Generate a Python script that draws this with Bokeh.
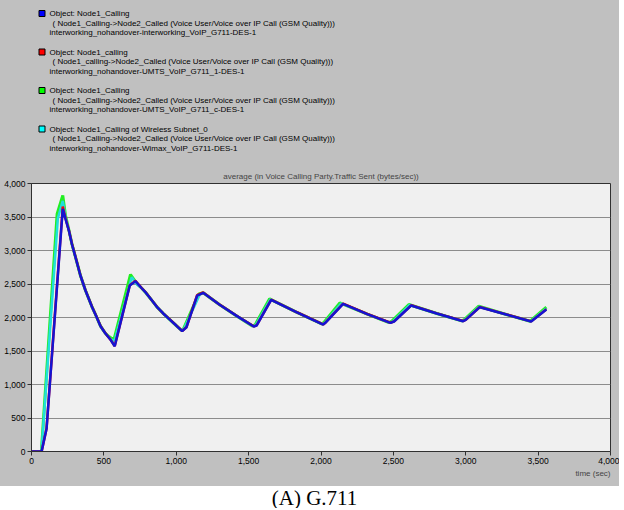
from bokeh.plotting import figure
from bokeh.layouts import column
from bokeh.models import Range1d, NumeralTickFormatter, FixedTicker, Title
from bokeh.core.properties import value
from bokeh.embed import file_html
from bokeh.resources import INLINE

# ---------------- data ----------------
blue_t = [0, 70, 104, 216, 235, 258, 280, 304, 338, 373, 419, 445, 477, 510, 546, 575, 679, 718, 760, 790, 830,
          868, 910, 950, 1000, 1041, 1071, 1144, 1186, 1300, 1420, 1536, 1555, 1656, 1830, 2015, 2030, 2153,
          2320, 2480, 2505, 2623, 2800, 2982, 3000, 3097, 3280, 3452, 3557]
blue_v = [0, 0, 338, 3622, 3470, 3298, 3090, 2900, 2627, 2403, 2154, 2030, 1870, 1765, 1667, 1571, 2478, 2542, 2440,
          2370, 2260, 2154, 2060, 1980, 1880, 1796, 1855, 2328, 2369, 2190, 2020, 1866, 1880, 2264, 2080, 1895,
          1920, 2204, 2050, 1920, 1940, 2179, 2060, 1945, 1965, 2154, 2045, 1940, 2119]

red_t = [0, 70, 104, 216, 235, 258, 280, 304, 338, 373, 419, 445, 477, 510, 546, 575, 679, 718, 760, 790, 830,
         868, 910, 950, 1000, 1041, 1071, 1144, 1186, 1300, 1420, 1536, 1555, 1656, 1830, 2015, 2030, 2153,
         2320, 2480, 2505, 2623, 2800, 2982, 3000, 3097, 3280, 3452, 3557]
red_v = [0, 0, 345, 3657, 3480, 3305, 3095, 2905, 2630, 2405, 2156, 2032, 1872, 1767, 1670, 1575, 2482, 2548, 2443,
         2373, 2262, 2156, 2062, 1982, 1882, 1799, 1858, 2332, 2373, 2192, 2022, 1868, 1882, 2268, 2082, 1897,
         1922, 2207, 2052, 1922, 1942, 2182, 2062, 1947, 1967, 2157, 2047, 1942, 2122]

green_t = [0, 68, 177, 216, 235, 258, 280, 304, 338, 373, 419, 445, 477, 510, 535, 557, 572, 684, 730, 760, 790, 830,
           868, 910, 950, 1000, 1035, 1050, 1156, 1186, 1300, 1420, 1525, 1545, 1645, 1830, 2005, 2020, 2130,
           2320, 2470, 2490, 2607, 2800, 2972, 2990, 3090, 3280, 3445, 3557]
green_v = [0, 0, 3547, 3820, 3520, 3310, 3090, 2900, 2627, 2403, 2154, 2030, 1870, 1765, 1715, 1682, 1690, 2642, 2500,
           2440, 2370, 2260, 2154, 2060, 1980, 1880, 1810, 1830, 2353, 2370, 2190, 2020, 1875, 1890, 2279, 2080,
           1905, 1925, 2219, 2050, 1925, 1945, 2194, 2060, 1950, 1970, 2169, 2045, 1945, 2154]

cyan_t = [0, 69, 182, 216, 235, 258, 280, 304, 338, 373, 419, 445, 477, 510, 540, 563, 576, 692, 730, 760, 790, 830,
          868, 910, 950, 1000, 1038, 1055, 1162, 1188, 1300, 1420, 1530, 1549, 1650, 1830, 2010, 2025, 2140,
          2320, 2475, 2497, 2613, 2800, 2977, 2995, 3093, 3280, 3448, 3557]
cyan_v = [0, 0, 3480, 3740, 3500, 3305, 3090, 2900, 2627, 2403, 2154, 2030, 1870, 1765, 1695, 1650, 1670, 2600, 2490,
          2440, 2370, 2260, 2154, 2060, 1980, 1880, 1805, 1840, 2340, 2368, 2190, 2020, 1870, 1885, 2272, 2080,
          1900, 1922, 2212, 2050, 1922, 1942, 2187, 2060, 1947, 1968, 2162, 2045, 1942, 2136]

legend_colors = ["#0000ff", "#ff0000", "#00ff00", "#00ffff"]
legend_lines = [
    ["Object: Node1_Calling",
     "( Node1_Calling->Node2_Called (Voice User/Voice over IP Call (GSM Quality)))",
     "interworking_nohandover-interworking_VoIP_G711-DES-1"],
    ["Object: Node1_calling",
     "( Node1_calling->Node2_Called (Voice User/Voice over IP Call (GSM Quality)))",
     "interworking_nohandover-UMTS_VoIP_G711_1-DES-1"],
    ["Object: Node1_Calling",
     "( Node1_Calling->Node2_Called (Voice User/Voice over IP Call (GSM Quality)))",
     "interworking_nohandover-UMTS_VoIP_G711_c-DES-1"],
    ["Object: Node1_Calling of Wireless Subnet_0",
     "( Node1_Calling->Node2_Called (Voice User/Voice over IP Call (GSM Quality)))",
     "interworking_nohandover-Wimax_VoIP_G711-DES-1"],
]
tick_values = [0, 500, 1000, 1500, 2000, 2500, 3000, 3500, 4000]
chart_title = "average (in Voice Calling Party.Traffic Sent (bytes/sec))"
x_title = "time (sec)"
caption = "(A) G.711"

# ---------------- style ----------------
GRAY = "#c0c0c0"
PLOT_BG = "#f0f0f0"
FONT = "Liberation Sans"
W = 619
BL = 31   # left border of every panel (frames are aligned in a column)
BR = 9
LH = 160
MH = 326
CH = 22

def panel(h, bg):
    f = figure(width=W, height=h, x_range=Range1d(BL, W - BR), y_range=Range1d(h, 0),
               toolbar_location=None, output_backend="svg",
               x_axis_location=None, y_axis_location=None,
               min_border_left=BL, min_border_right=BR, min_border_top=0, min_border_bottom=0,
               background_fill_color=bg, border_fill_color=bg, outline_line_color=None)
    f.grid.visible = False
    return f

# ---------------- legend panel ----------------
leg = panel(LH, GRAY)
group_y = [13, 51.5, 90, 128.5]
line_dy = [0, 9.7, 19.2]
line_dx = [49, 52, 49]
tx, ty, tt = [], [], []
for gy, lines in zip(group_y, legend_lines):
    for dx, dy, s in zip(line_dx, line_dy, lines):
        tx.append(dx); ty.append(gy + dy); tt.append(s)
leg.text(x=tx, y=ty, text=tt, text_font=value(FONT), text_font_size="8px",
         text_baseline="middle", text_align="left", text_color="#000000")
leg.scatter(x=[41.5] * 4, y=group_y, marker="square", size=6, fill_color=legend_colors,
            line_color="#000000", line_width=1)

# ---------------- main plot ----------------
p = figure(width=W, height=MH, x_range=Range1d(0, 4000), y_range=Range1d(0, 4000),
           toolbar_location=None, output_backend="svg",
           background_fill_color=PLOT_BG, border_fill_color=GRAY,
           outline_line_color="#303030", outline_line_width=1,
           min_border_left=BL, min_border_right=BR, min_border_top=23, min_border_bottom=35)
p.title.text = chart_title
p.title.align = "center"
p.title.text_font = FONT
p.title.text_font_size = "8px"
p.title.text_font_style = "normal"
p.title.standoff = 5

p.add_layout(Title(text=x_title, align="right", text_font=FONT, text_font_size="8px",
                   text_font_style="normal", standoff=0), "below")

for ax in (p.xaxis[0], p.yaxis[0]):
    ax.ticker = FixedTicker(ticks=tick_values)
    ax.formatter = NumeralTickFormatter(format="0,0")
    ax.major_label_text_font = FONT
    ax.major_label_text_font_size = "8.5px"
    ax.major_label_text_color = "#000000"
    ax.axis_line_color = "#303030"
    ax.major_tick_line_color = "#303030"
    ax.major_tick_out = 4
    ax.major_tick_in = 0
    ax.minor_tick_line_color = None
    ax.major_label_standoff = 2

p.xgrid.visible = False
p.ygrid.grid_line_color = "#8c8c8c"
p.ygrid.grid_line_width = 1.2

p.line(green_t, green_v, line_color="#22ee22", line_width=3)
p.line(cyan_t, cyan_v, line_color="#22dddd", line_width=2.5)
p.line(red_t, red_v, line_color="#ff0000", line_width=2.5)
p.line(blue_t, blue_v, line_color="#1414d2", line_width=2.5)

# ---------------- caption ----------------
cap = panel(CH, "#ffffff")
cap.text(x=[314], y=[11], text=[caption], text_font=value("Liberation Serif"), text_font_size="21px",
         text_baseline="middle", text_align="center", text_color="#000000")

bg = "linear-gradient(%s 0px, %s %dpx, #ffffff %dpx)" % (GRAY, GRAY, LH + MH, LH + MH)
layout = column(leg, p, cap, spacing=0,
                styles={"position": "absolute", "left": "0px", "top": "0px", "background": bg})

open("out.html", "w").write(file_html(layout, INLINE))
